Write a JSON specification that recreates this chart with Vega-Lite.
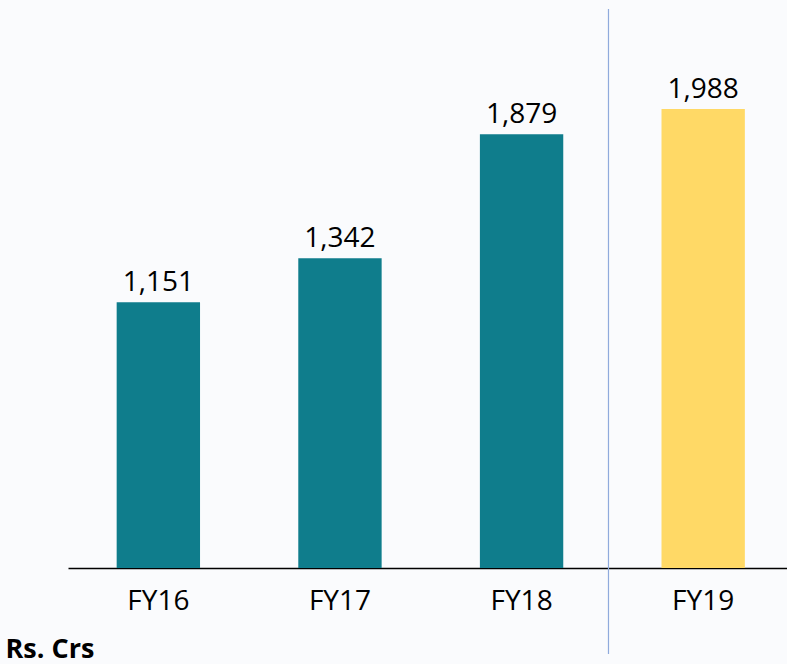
{
  "$schema": "https://vega.github.io/schema/vega-lite/v6.json",
  "width": 719,
  "height": 559,
  "autosize": {"type": "none"},
  "padding": {"left": 68, "top": 9, "right": 0, "bottom": 96},
  "background": "#fafbfd",
  "config": {
    "view": {"stroke": null},
    "font": "Open Sans"
  },
  "datasets": {
    "bars": [
      {"year": "FY16", "value": 1151},
      {"year": "FY17", "value": 1342},
      {"year": "FY18", "value": 1879},
      {"year": "FY19", "value": 1988}
    ],
    "divider": [
      {"year": "FY19", "top": 2421, "bottom": -372}
    ]
  },
  "layer": [
    {
      "data": {"name": "bars"},
      "mark": {"type": "bar"},
      "encoding": {
        "x": {
          "field": "year", "type": "nominal", "sort": null,
          "scale": {"paddingInner": 0.541, "paddingOuter": 0.25, "align": 0.536, "round": false},
          "axis": {
            "title": "Rs. Crs",
            "titleFont": "Open Sans",
            "titleFontWeight": "bold",
            "titleFontSize": 27,
            "titleColor": "#000000",
            "titleAnchor": "start",
            "titleAlign": "left",
            "titleBaseline": "alphabetic",
            "titleX": -63,
            "titleY": 89,
            "labelAngle": 0,
            "labelFontSize": 28,
            "labelColor": "#000000",
            "labelPadding": 19,
            "ticks": false,
            "domainColor": "#000000",
            "domainWidth": 1.5
          }
        },
        "y": {
          "field": "value", "type": "quantitative",
          "scale": {"domain": [0, 2421], "nice": false},
          "axis": null
        },
        "color": {
          "field": "year", "type": "nominal",
          "scale": {"domain": ["FY16", "FY17", "FY18", "FY19"], "range": ["#0f7d8c", "#0f7d8c", "#0f7d8c", "#ffd966"]},
          "legend": null
        }
      }
    },
    {
      "data": {"name": "bars"},
      "mark": {"type": "text", "baseline": "alphabetic", "dy": -11, "fontSize": 28, "color": "#000000"},
      "encoding": {
        "x": {"field": "year", "type": "nominal", "sort": null},
        "y": {"field": "value", "type": "quantitative"},
        "text": {"field": "value", "type": "quantitative", "format": ","}
      }
    },
    {
      "data": {"name": "divider"},
      "mark": {"type": "rule", "color": "#8faadc", "strokeWidth": 1.2},
      "encoding": {
        "x": {"field": "year", "type": "nominal", "bandPosition": -0.636},
        "y": {"field": "top", "type": "quantitative"},
        "y2": {"field": "bottom"}
      }
    }
  ]
}
